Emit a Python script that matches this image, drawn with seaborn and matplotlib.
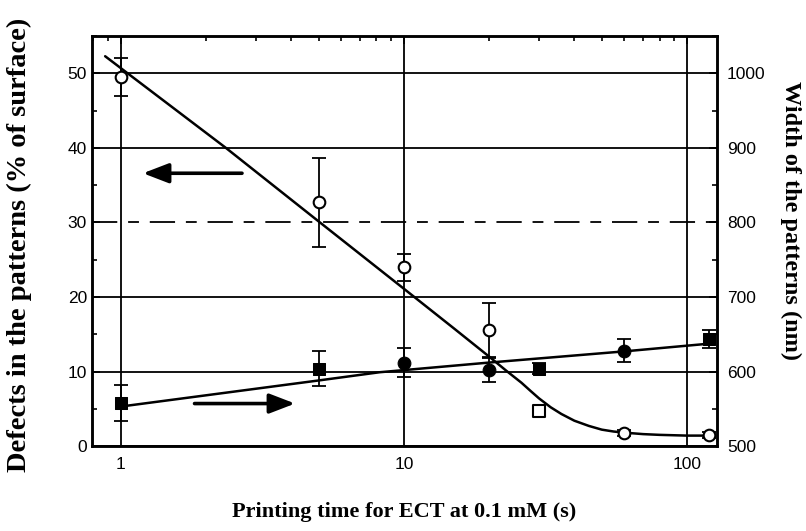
#!/usr/bin/env python3
"""Defects and width of printed patterns vs printing time (log x, twin y axes)."""

import matplotlib
matplotlib.use("Agg")
import matplotlib.pyplot as plt
import matplotlib.ticker as mticker
import pandas as pd
import seaborn as sns

# printing times (s)
times = [1, 5, 10, 20, 30, 60, 120]

# defects in the patterns, % of surface (open symbols, left axis)
defects = [49.5, 32.7, 24.0, 15.6, 4.7, 1.8, 1.5]
defects_err = [2.5, 6.0, 1.8, 3.6, 0.7, 0.4, 0.4]

# width of the patterns, nm (filled symbols, right axis)
width = [558, 604, 612, 602, 604, 628, 644]
width_err = [24, 24, 20, 16, 8, 15, 12]

# fitted curves
defects_fit_t = [0.88, 2.35, 5.05, 10, 15, 20, 23, 26, 28, 30, 33, 36, 40, 45, 50, 55, 60, 70, 80, 100, 125]
defects_fit_y = [52.3, 40.0, 30.0, 21.1, 15.8, 12.0, 10.1, 8.5, 7.4, 6.4, 5.2, 4.3, 3.4, 2.7, 2.2, 1.95, 1.8, 1.6, 1.5, 1.4, 1.4]
width_fit_t = [1, 5, 8.2, 20, 60, 125]
width_fit_y = [553, 588, 599, 612, 627, 638]

defect_markers = ["o", "o", "o", "o", "s", "o", "o"]
width_markers = ["s", "s", "o", "o", "s", "o", "s"]


def main() -> None:
    sns.set_theme(style="white")
    plt.rcParams["font.family"] = ["Liberation Sans", "DejaVu Sans"]
    for key in ("text.color", "axes.labelcolor", "xtick.color", "ytick.color"):
        plt.rcParams[key] = "black"

    fig, ax = plt.subplots(figsize=(8.06, 5.31), dpi=100)
    fig.subplots_adjust(left=0.114, right=0.890, bottom=0.160, top=0.932)
    ax2 = ax.twinx()

    d = pd.DataFrame({"t": times, "y": defects, "err": defects_err, "m": defect_markers})
    w = pd.DataFrame({"t": times, "y": width, "err": width_err, "m": width_markers})
    dfit = pd.DataFrame({"t": defects_fit_t, "y": defects_fit_y})
    wfit = pd.DataFrame({"t": width_fit_t, "y": width_fit_y})

    sns.lineplot(data=dfit, x="t", y="y", color="black", lw=1.8, ax=ax, zorder=3)
    sns.lineplot(data=wfit, x="t", y="y", color="black", lw=1.8, ax=ax2, zorder=3)

    ax.errorbar(d["t"], d["y"], yerr=d["err"], fmt="none", ecolor="black",
                elinewidth=1.3, capsize=5, capthick=1.3, zorder=4)
    ax2.errorbar(w["t"], w["y"], yerr=w["err"], fmt="none", ecolor="black",
                 elinewidth=1.3, capsize=5, capthick=1.3, zorder=4)
    for m in set(defect_markers):
        sub = d[d["m"] == m]
        sns.scatterplot(data=sub, x="t", y="y", marker=m, s=70, facecolor="white",
                        edgecolor="black", linewidth=1.5, ax=ax, zorder=5)
    for m in set(width_markers):
        sub = w[w["m"] == m]
        sns.scatterplot(data=sub, x="t", y="y", marker=m, s=85, color="black",
                        edgecolor="black", ax=ax2, zorder=5)

    ax.set_xscale("log")
    ax.set_xlim(0.79, 128)
    ax.set_ylim(0, 55)
    ax2.set_ylim(500, 1050)

    ax.xaxis.set_major_locator(mticker.FixedLocator([1, 10, 100]))
    ax.xaxis.set_major_formatter(mticker.FixedFormatter(["1", "10", "100"]))
    ax.xaxis.set_minor_locator(mticker.LogLocator(base=10, subs=range(2, 10)))
    ax.xaxis.set_minor_formatter(mticker.NullFormatter())
    ax.yaxis.set_major_locator(mticker.MultipleLocator(10))
    ax.yaxis.set_minor_locator(mticker.MultipleLocator(5))
    ax2.yaxis.set_major_locator(mticker.FixedLocator([500, 600, 700, 800, 900, 1000]))
    ax2.yaxis.set_minor_locator(mticker.MultipleLocator(50))

    ax.grid(True, which="major", axis="both", color="black", lw=1.3)
    for line, val in zip(ax.yaxis.get_gridlines(), ax.yaxis.get_majorticklocs()):
        if val == 30:
            line.set_dashes([14, 6, 6, 6])
    ax.set_axisbelow(True)

    ax.tick_params(which="both", direction="in", top=True, color="black")
    ax.tick_params(which="major", length=6, width=1.3, labelsize=12.5)
    ax.tick_params(which="minor", length=3.5, width=1.2)
    ax.tick_params(axis="x", pad=8)
    ax2.tick_params(which="both", direction="in", color="black")
    ax2.tick_params(which="major", length=6, width=1.3, labelsize=12.5, pad=7)
    ax2.tick_params(which="minor", length=3.5, width=1.2)
    for a in (ax, ax2):
        for sp in a.spines.values():
            sp.set_color("black")
            sp.set_linewidth(1.8)

    serif = ["Liberation Serif", "DejaVu Serif"]
    ax.set_xlabel("Printing time for ECT at 0.1 mM (s)", family=serif,
                  weight="bold", size=16, va="center")
    ax.xaxis.set_label_coords(0.5, -0.162)
    ax.set_ylabel("Defects in the patterns (% of surface)", family=serif,
                  weight="bold", size=20.5, va="center")
    ax.yaxis.set_label_coords(-0.116, 0.49)
    ax2.set_ylabel("Width of the patterns (nm)", family=serif, weight="bold",
                   size=17.5, rotation=270, va="center")
    ax2.yaxis.set_label_coords(1.117, 0.55)

    # arrows pointing to the axis each series belongs to
    style = "-|>,head_length=1.3,head_width=0.5"
    ax.annotate("", xy=(1.17, 36.6), xytext=(2.74, 36.6),
                arrowprops=dict(arrowstyle=style, color="black", lw=2.6))
    ax.annotate("", xy=(4.22, 5.7), xytext=(1.78, 5.7),
                arrowprops=dict(arrowstyle=style, color="black", lw=2.6))

    fig.savefig("out.png", dpi=100)


if __name__ == "__main__":
    main()
